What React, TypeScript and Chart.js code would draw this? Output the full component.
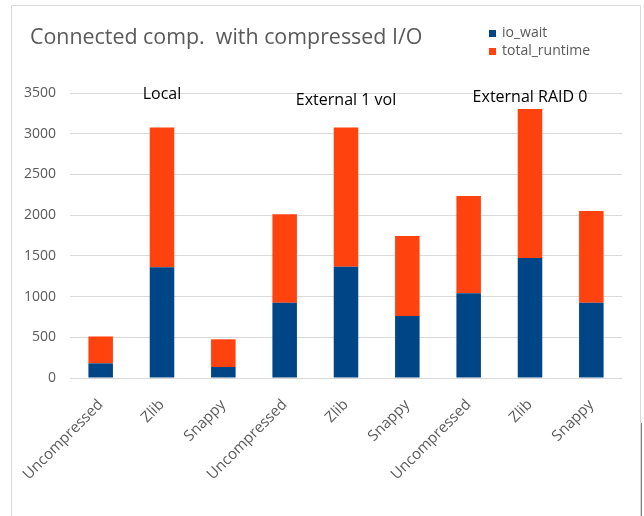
import React, { useEffect, useRef } from "react";
import { Chart, registerables } from "chart.js";

Chart.register(...registerables);

const categories = [
  "Uncompressed", "Zlib", "Snappy",
  "Uncompressed", "Zlib", "Snappy",
  "Uncompressed", "Zlib", "Snappy",
];
const ioWait = [180, 1360, 135, 925, 1365, 760, 1040, 1475, 925];
const totalRuntime = [330, 1715, 340, 1085, 1710, 985, 1195, 1830, 1125];
const groupLabels = ["Local", "External 1 vol", "External RAID 0"];
const groupAnchors = [1, 4, 7];
const groupLabelY = [94, 100, 97];
const yTicks = [0, 500, 1000, 1500, 2000, 2500, 3000, 3500];

const TITLE = "Connected comp.  with compressed I/O";
const BLUE = "#004586";
const ORANGE = "#ff420e";
const GREY_TEXT = "#595959";
const GRID = "#d9d9d9";
const FONT = "'Open Sans', sans-serif";

// Frame, title, legend and group captions drawn straight onto the canvas
const decorations = {
  id: "decorations",
  beforeDraw(chart: any) {
    const ctx = chart.ctx;
    ctx.save();
    ctx.fillStyle = "#ffffff";
    ctx.fillRect(0, 0, chart.width, chart.height);
    ctx.strokeStyle = GRID;
    ctx.lineWidth = 1;
    ctx.beginPath();
    ctx.moveTo(11.5, chart.height);
    ctx.lineTo(11.5, 5.5);
    ctx.lineTo(640.5, 5.5);
    ctx.lineTo(640.5, chart.height);
    ctx.stroke();
    ctx.strokeStyle = "#7f7f7f";
    ctx.beginPath();
    ctx.moveTo(641.5, 423);
    ctx.lineTo(641.5, chart.height);
    ctx.stroke();
    ctx.restore();
  },
  afterDraw(chart: any) {
    const ctx = chart.ctx;
    const xScale = chart.scales.x;
    ctx.save();
    // title
    ctx.fillStyle = GREY_TEXT;
    ctx.font = `21.4px ${FONT}`;
    ctx.textAlign = "left";
    ctx.textBaseline = "middle";
    ctx.fillText(TITLE, 30, 38);
    // legend
    const entries = [
      { label: "io_wait", color: BLUE, y: 33 },
      { label: "total_runtime", color: ORANGE, y: 51 },
    ];
    ctx.font = `14px ${FONT}`;
    entries.forEach((e) => {
      ctx.fillStyle = e.color;
      ctx.fillRect(489, e.y - 3, 7, 7);
      ctx.fillStyle = GREY_TEXT;
      ctx.fillText(e.label, 502, e.y);
    });
    // group captions
    ctx.fillStyle = "#000000";
    ctx.font = `16px ${FONT}`;
    ctx.textAlign = "center";
    groupLabels.forEach((g, i) => {
      const x = xScale.getPixelForValue(groupAnchors[i]);
      ctx.fillText(g, x, groupLabelY[i]);
    });
    ctx.restore();
  },
};

export default function App() {
  const canvasRef = useRef<HTMLCanvasElement | null>(null);

  useEffect(() => {
    if (!canvasRef.current) return;
    const chart = new Chart(canvasRef.current, {
      type: "bar",
      data: {
        labels: categories,
        datasets: [
          {
            label: "io_wait",
            data: ioWait,
            backgroundColor: BLUE,
            stack: "s",
            categoryPercentage: 1,
            barPercentage: 0.4,
          },
          {
            label: "total_runtime",
            data: totalRuntime,
            backgroundColor: ORANGE,
            stack: "s",
            categoryPercentage: 1,
            barPercentage: 0.4,
          },
        ],
      },
      options: {
        responsive: false,
        animation: false,
        devicePixelRatio: 1,
        layout: { padding: { left: 0, top: 93, right: 22, bottom: 0 } },
        plugins: {
          legend: { display: false },
          title: { display: false },
          tooltip: { enabled: false },
        },
        scales: {
          x: {
            stacked: true,
            grid: { display: false, drawTicks: false },
            border: { display: false },
            ticks: {
              color: GREY_TEXT,
              font: { family: FONT, size: 15 },
              minRotation: 45,
              maxRotation: 45,
              padding: 18,
              autoSkip: false,
            },
            afterFit(scale: any) {
              scale.height = 138;
            },
          },
          y: {
            stacked: true,
            min: 0,
            max: 3500,
            grid: { color: GRID, lineWidth: 1, drawTicks: false },
            border: { display: false },
            afterBuildTicks(scale: any) {
              scale.ticks = yTicks.map((v) => ({ value: v }));
            },
            ticks: {
              color: GREY_TEXT,
              font: { family: FONT, size: 14 },
              padding: 14,
              callback: (v: any) => String(v),
            },
            afterFit(scale: any) {
              scale.width = 70;
            },
          },
        },
      },
      plugins: [decorations],
    });
    return () => chart.destroy();
  }, []);

  return (
    <div
      style={{
        position: "fixed",
        left: 0,
        top: 0,
        width: 644,
        height: 516,
        background: "#ffffff",
      }}
    >
      <canvas ref={canvasRef} width={644} height={516} style={{ display: "block" }} />
    </div>
  );
}
